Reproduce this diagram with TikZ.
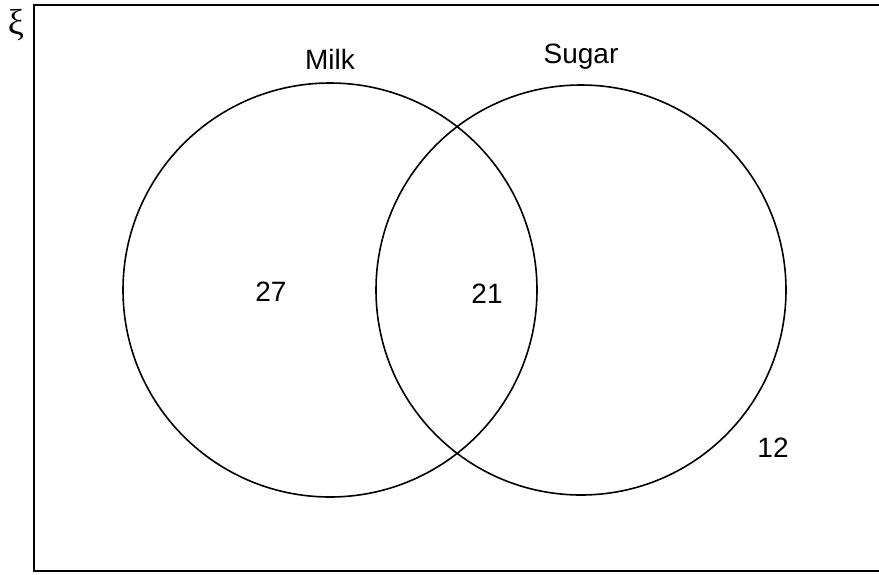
\documentclass[tikz,border=0pt]{standalone}
\usepackage{fontspec}
\setmainfont{Liberation Sans}
\newfontfamily\xifont{Liberation Serif}
\begin{document}
\begin{tikzpicture}[x=1pt,y=-1pt,
  setline/.style={line width=1.6pt},
  boxline/.style={line width=2pt},
  lbl/.style={font=\fontsize{28}{32}\selectfont, inner sep=0pt}]
\useasboundingbox (0,0) rectangle (879,574);
\draw[boxline] (34,5) rectangle (885,571);
\node[inner sep=0pt, font=\xifont\fontsize{36}{40}\selectfont] (xi) at (16,25) {ξ};
\node[draw, setline, circle, minimum size=414pt, inner sep=0pt] (milk) at (330,290) {};
\node[draw, setline, circle, minimum size=410pt, inner sep=0pt] (sugar) at (581,290) {};
\node[lbl] (lmilk) at (330,59) {Milk};
\node[lbl] (lsugar) at (581,57) {Sugar};
\node[lbl] (n27) at (271,292) {27};
\node[lbl] (n21) at (487,294) {21};
\node[lbl] (n12) at (773,448) {12};
\end{tikzpicture}
\end{document}
